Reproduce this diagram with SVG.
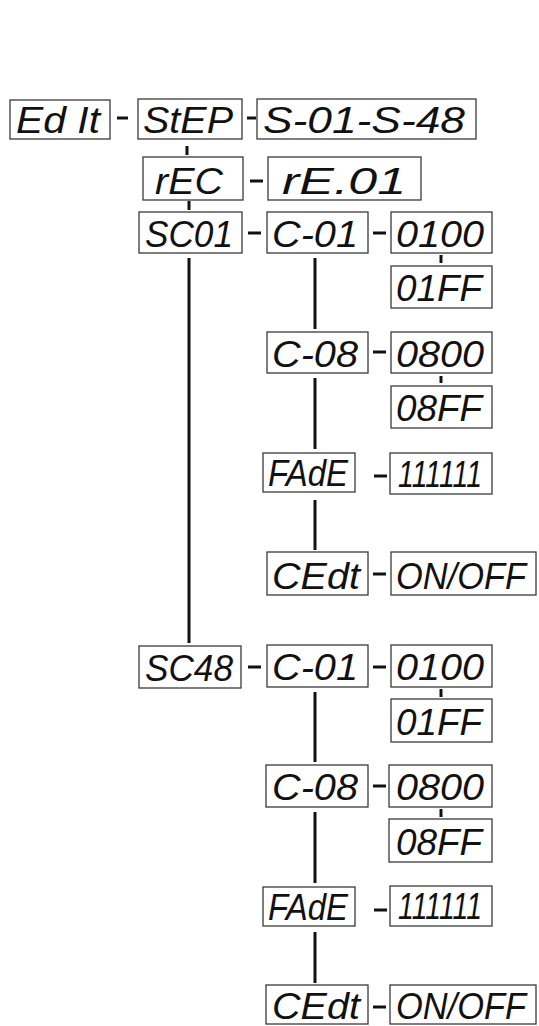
<svg xmlns="http://www.w3.org/2000/svg" width="539" height="1026" viewBox="0 0 539 1026">
<style>
.box{fill:#fff;stroke:#3a3a3a;stroke-width:1.3}
.t{font-family:"Liberation Sans",Arial,sans-serif;font-style:italic;font-size:37px;fill:#111}
.c line{stroke:#111;stroke-width:3}
</style>
<rect width="539" height="1026" fill="#fff"/>
<g class="c" id="connectors">
<line x1="117" y1="118" x2="128" y2="118"/>
<line x1="247" y1="118" x2="256" y2="118"/>
<line x1="187" y1="146" x2="187" y2="155"/>
<line x1="250" y1="181" x2="263" y2="181"/>
<line x1="189" y1="201" x2="189" y2="210"/>
<line x1="248" y1="233" x2="261" y2="233"/>
<line x1="373" y1="233" x2="386" y2="233"/>
<line x1="189" y1="258" x2="189" y2="643"/>
<line x1="315" y1="258" x2="315" y2="329"/>
<line x1="441" y1="255" x2="441" y2="263"/>
<line x1="373" y1="352" x2="386" y2="352"/>
<line x1="315" y1="378" x2="315" y2="449"/>
<line x1="441" y1="376" x2="441" y2="383"/>
<line x1="374" y1="476" x2="387" y2="476"/>
<line x1="315" y1="500" x2="315" y2="550"/>
<line x1="373" y1="574" x2="386" y2="574"/>
<line x1="248" y1="667" x2="261" y2="667"/>
<line x1="373" y1="667" x2="386" y2="667"/>
<line x1="315" y1="692" x2="315" y2="762"/>
<line x1="441" y1="689" x2="441" y2="697"/>
<line x1="373" y1="786" x2="386" y2="786"/>
<line x1="315" y1="812" x2="315" y2="883"/>
<line x1="441" y1="809" x2="441" y2="817"/>
<line x1="374" y1="910" x2="387" y2="910"/>
<line x1="315" y1="932" x2="315" y2="983"/>
<line x1="373" y1="1007" x2="386" y2="1007"/>
</g>
<g id="edit"><rect class="box" x="10" y="100" width="100" height="39"/><text class="t" x="16" y="133" textLength="84" lengthAdjust="spacingAndGlyphs">Ed It</text></g>
<g id="step"><rect class="box" x="138" y="99" width="104" height="40"/><text class="t" x="143" y="133" textLength="90" lengthAdjust="spacingAndGlyphs">StEP</text></g>
<g id="s01s48"><rect class="box" x="257" y="99" width="219" height="40"/><text class="t" x="263" y="133" textLength="202" lengthAdjust="spacingAndGlyphs">S-01-S-48</text></g>
<g id="rec"><rect class="box" x="143" y="157" width="100" height="43"/><text class="t" x="155" y="194" textLength="68" lengthAdjust="spacingAndGlyphs">rEC</text></g>
<g id="re01"><rect class="box" x="268" y="157" width="153" height="43"/><text class="t" x="282" y="194" textLength="124" lengthAdjust="spacingAndGlyphs">rE.01</text></g>
<g id="sc01"><rect class="box" x="139" y="212" width="103" height="41"/><text class="t" x="145" y="247" textLength="88" lengthAdjust="spacingAndGlyphs">SC01</text></g>
<g id="c01a"><rect class="box" x="267" y="212" width="101" height="41"/><text class="t" x="272" y="247" textLength="86" lengthAdjust="spacingAndGlyphs">C-01</text></g>
<g id="v0100a"><rect class="box" x="391" y="212" width="101" height="41"/><text class="t" x="396" y="247" textLength="88" lengthAdjust="spacingAndGlyphs">0100</text></g>
<g id="v01ffa"><rect class="box" x="391" y="266" width="101" height="42"/><text class="t" x="396" y="301" textLength="86" lengthAdjust="spacingAndGlyphs">01FF</text></g>
<g id="c08a"><rect class="box" x="267" y="332" width="101" height="41"/><text class="t" x="272" y="367" textLength="86" lengthAdjust="spacingAndGlyphs">C-08</text></g>
<g id="v0800a"><rect class="box" x="391" y="332" width="101" height="41"/><text class="t" x="396" y="367" textLength="88" lengthAdjust="spacingAndGlyphs">0800</text></g>
<g id="v08ffa"><rect class="box" x="391" y="386" width="101" height="42"/><text class="t" x="396" y="421" textLength="86" lengthAdjust="spacingAndGlyphs">08FF</text></g>
<g id="fadea"><rect class="box" x="263" y="453" width="92" height="39"/><text class="t" x="268" y="486" textLength="80" lengthAdjust="spacingAndGlyphs">FAdE</text></g>
<g id="onesa"><rect class="box" x="390" y="453" width="102" height="41"/><text class="t" x="398" y="487" textLength="84" lengthAdjust="spacingAndGlyphs">111111</text></g>
<g id="cedta"><rect class="box" x="267" y="552" width="101" height="43"/><text class="t" x="272" y="589" textLength="88" lengthAdjust="spacingAndGlyphs">CEdt</text></g>
<g id="onoffa"><rect class="box" x="391" y="552" width="145" height="43"/><text class="t" x="396" y="589" textLength="130" lengthAdjust="spacingAndGlyphs">ON/OFF</text></g>
<g id="sc48"><rect class="box" x="139" y="646" width="102" height="42"/><text class="t" x="145" y="681" textLength="88" lengthAdjust="spacingAndGlyphs">SC48</text></g>
<g id="c01b"><rect class="box" x="267" y="645" width="101" height="42"/><text class="t" x="272" y="680" textLength="86" lengthAdjust="spacingAndGlyphs">C-01</text></g>
<g id="v0100b"><rect class="box" x="391" y="645" width="101" height="42"/><text class="t" x="396" y="680" textLength="88" lengthAdjust="spacingAndGlyphs">0100</text></g>
<g id="v01ffb"><rect class="box" x="391" y="699" width="101" height="43"/><text class="t" x="396" y="735" textLength="86" lengthAdjust="spacingAndGlyphs">01FF</text></g>
<g id="c08b"><rect class="box" x="266" y="765" width="102" height="42"/><text class="t" x="272" y="800" textLength="86" lengthAdjust="spacingAndGlyphs">C-08</text></g>
<g id="v0800b"><rect class="box" x="389" y="765" width="103" height="42"/><text class="t" x="396" y="800" textLength="88" lengthAdjust="spacingAndGlyphs">0800</text></g>
<g id="v08ffb"><rect class="box" x="389" y="819" width="103" height="43"/><text class="t" x="396" y="855" textLength="86" lengthAdjust="spacingAndGlyphs">08FF</text></g>
<g id="fadeb"><rect class="box" x="263" y="887" width="92" height="39"/><text class="t" x="268" y="920" textLength="80" lengthAdjust="spacingAndGlyphs">FAdE</text></g>
<g id="onesb"><rect class="box" x="390" y="886" width="102" height="40"/><text class="t" x="398" y="919" textLength="84" lengthAdjust="spacingAndGlyphs">111111</text></g>
<g id="cedtb"><rect class="box" x="266" y="985" width="102" height="39"/><text class="t" x="272" y="1019" textLength="88" lengthAdjust="spacingAndGlyphs">CEdt</text></g>
<g id="onoffb"><rect class="box" x="390" y="985" width="146" height="39"/><text class="t" x="396" y="1019" textLength="130" lengthAdjust="spacingAndGlyphs">ON/OFF</text></g>
</svg>
